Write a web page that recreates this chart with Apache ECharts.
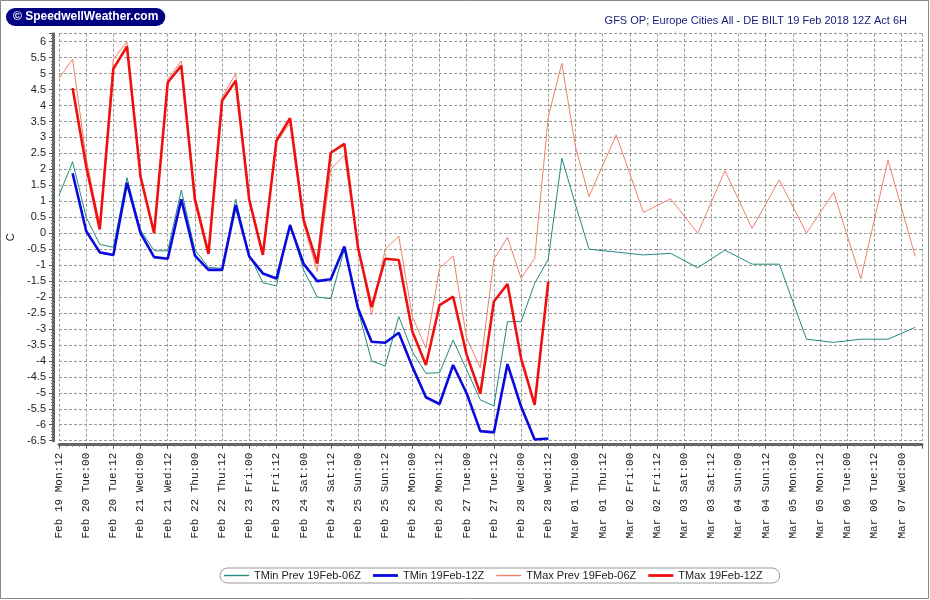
<!DOCTYPE html>
<html>
<head>
<meta charset="utf-8">
<title>DE BILT GFS</title>
<script src="https://cdn.jsdelivr.net/npm/echarts@6/dist/echarts.min.js"></script>
<style>
    html, body { margin: 0; padding: 0; background: #fff; }
    #chart { width: 930px; height: 600px; }
</style>
</head>
<body>
<div id="chart"></div>
<script type="text/javascript">
    // 6 hour steps from Feb 19 12Z (index i -> hour i*6)
    var stepHours = 6;

    // x axis labels, one every 12 hours
    var tickLabels = [
        'Feb 19 Mon:12', 'Feb 20 Tue:00', 'Feb 20 Tue:12', 'Feb 21 Wed:00', 'Feb 21 Wed:12',
        'Feb 22 Thu:00', 'Feb 22 Thu:12', 'Feb 23 Fri:00', 'Feb 23 Fri:12', 'Feb 24 Sat:00',
        'Feb 24 Sat:12', 'Feb 25 Sun:00', 'Feb 25 Sun:12', 'Feb 26 Mon:00', 'Feb 26 Mon:12',
        'Feb 27 Tue:00', 'Feb 27 Tue:12', 'Feb 28 Wed:00', 'Feb 28 Wed:12', 'Mar 01 Thu:00',
        'Mar 01 Thu:12', 'Mar 02 Fri:00', 'Mar 02 Fri:12', 'Mar 03 Sat:00', 'Mar 03 Sat:12',
        'Mar 04 Sun:00', 'Mar 04 Sun:12', 'Mar 05 Mon:00', 'Mar 05 Mon:12', 'Mar 06 Tue:00',
        'Mar 06 Tue:12', 'Mar 07 Wed:00'
    ];

    var seriesNames = ['TMin Prev 19Feb-06Z', 'TMin 19Feb-12Z', 'TMax Prev 19Feb-06Z', 'TMax 19Feb-12Z'];

    //TMin Prev 19Feb-06Z
    var tminPrev = [
        1.18, 2.24, 0.5, -0.35, -0.44, 1.74, 0.1, -0.55, -0.55, 1.35,
        -0.52, -1.07, -1.1, 1.07, -0.68, -1.55, -1.65, 0.28, -1.15, -2.0,
        -2.05, -0.5, -2.4, -4.0, -4.16, -2.61, -3.71, -4.39, -4.37, -3.35,
        -4.28, -5.22, -5.41, -2.77, -2.77, -1.57, -0.82, 2.35, 0.9, -0.5,
        null, -0.59, null, -0.68, null, -0.63, null, -1.08, null, -0.53,
        null, -0.97, null, -0.97, null, -3.32, null, -3.42, null, -3.32,
        null, -3.32, null, -2.95
    ];
    //TMin 19Feb-12Z
    var tmin = [
        null, 1.88, 0.07, -0.6, -0.68, 1.58, 0.0, -0.75, -0.8, 1.06,
        -0.7, -1.15, -1.15, 0.88, -0.73, -1.26, -1.42, 0.25, -0.96, -1.5,
        -1.44, -0.42, -2.35, -3.4, -3.43, -3.12, -4.18, -5.14, -5.35, -4.13,
        -5.02, -6.2, -6.24, -4.1, -5.43, -6.46, -6.43
    ];
    //TMax Prev 19Feb-06Z
    var tmaxPrev = [
        4.85, 5.45, 2.35, 0.25, 5.45, 6.0, 1.85, 0.0, 4.82, 5.4,
        1.2, -0.55, 4.25, 5.0, 1.1, -0.6, 2.85, 3.45, 0.3, -1.2,
        2.0, 2.45, -0.4, -2.56, -0.5, -0.09, -2.61, -3.6, -1.1, -0.71,
        -3.29, -4.21, -0.82, -0.13, -1.41, -0.79, 3.65, 5.32, 2.71, 1.15,
        null, 3.08, null, 0.65, null, 1.08, null, 0.0, null, 1.96,
        null, 0.15, null, 1.67, null, 0.0, null, 1.28, null, -1.43,
        null, 2.29, null, -0.73
    ];
    //TMax 19Feb-12Z
    var tmax = [
        null, 4.55, 2.1, 0.12, 5.15, 5.85, 1.77, 0.0, 4.72, 5.25,
        1.05, -0.65, 4.15, 4.78, 1.04, -0.68, 2.9, 3.6, 0.42, -0.95,
        2.52, 2.8, -0.45, -2.32, -0.8, -0.84, -3.08, -4.13, -2.25, -1.99,
        -3.81, -5.03, -2.14, -1.59, -3.92, -5.38, -1.52
    ];

    // 把数组转成 [小时, 值]，空值跳过
    function toPairs(arr) {
        var out = [];
        for (var i = 0; i < arr.length; i++) {
            if (arr[i] !== null) out.push([i * stepHours, arr[i]]);
        }
        return out;
    }

    // 图例图标：细线/粗线 (moveTo 撑开包围盒)
    var thinIcon = 'path://M0,0 M0,8 M0,3.3 L25,3.3 L25,4.7 L0,4.7 Z';
    var thickIcon = 'path://M0,0 M0,8 M0,2.6 L25,2.6 L25,5.4 L0,5.4 Z';

    var chart = echarts.init(document.getElementById('chart'));
    var font = 'Liberation Sans';

    var option = {
        animation: false,
        backgroundColor: '#fff',
        title: [{
            text: '\u00a9 SpeedwellWeather.com',
            left: 6,
            top: 8,
            backgroundColor: '#000080',
            borderRadius: 10,
            padding: [3, 7, 3, 7],
            textStyle: {color: '#fff', fontWeight: 'bold', fontSize: 12, fontFamily: font}
        }, {
            text: 'GFS OP; Europe Cities All - DE BILT 19 Feb 2018 12Z Act 6H',
            right: 18,
            top: 10,
            textStyle: {color: '#1a1a7a', fontWeight: 'normal', fontSize: 11, fontFamily: font}
        }],
        graphic: [{
            type: 'rect',
            shape: {x: 0.5, y: 0.5, width: 928, height: 598},
            style: {fill: 'none', stroke: '#888', lineWidth: 1},
            silent: true
        }],
        legend: {
            left: 220,
            top: 568,
            itemWidth: 25,
            itemHeight: 8,
            itemGap: 12,
            padding: [2, 17, 2, 4],
            borderColor: '#999',
            borderWidth: 1,
            borderRadius: 9,
            textStyle: {fontSize: 11, fontFamily: font, color: '#222'},
            data: [
                {name: seriesNames[0], icon: thinIcon},
                {name: seriesNames[1], icon: thickIcon},
                {name: seriesNames[2], icon: thinIcon},
                {name: seriesNames[3], icon: thickIcon}
            ]
        },
        grid: {
            left: 59,
            right: 8,
            top: 33.7,
            bottom: 159.3,
            containLabel: false,
            outerBoundsMode: 'none'
        },
        xAxis: {
            type: 'value',
            min: 0,
            max: 381,
            interval: 12,
            offset: 4,
            axisLine: {onZero: false, lineStyle: {color: '#666', width: 3}},
            axisTick: {length: 4, lineStyle: {color: '#555'}},
            minorTick: {show: true, splitNumber: 4, length: 2, lineStyle: {color: '#777'}},
            axisLabel: {
                rotate: 90,
                margin: 8,
                showMaxLabel: false,
                fontFamily: 'Liberation Mono',
                fontSize: 11,
                color: '#222',
                formatter: function (v) {
                    return v % 12 === 0 && tickLabels[v / 12] ? tickLabels[v / 12] : '';
                }
            },
            splitLine: {show: true, lineStyle: {color: '#9a9a9a', type: [3, 2], width: 1}}
        },
        yAxis: {
            type: 'value',
            min: -6.5,
            max: 6.25,
            interval: 0.5,
            offset: 6,
            name: 'C',
            nameLocation: 'middle',
            nameGap: 35,
            nameTextStyle: {fontSize: 11, fontFamily: font, color: '#222'},
            axisLine: {show: true, onZero: false, lineStyle: {color: '#666', width: 3}},
            axisTick: {show: true, length: 4, lineStyle: {color: '#555'}},
            minorTick: {show: true, splitNumber: 5, length: 2, lineStyle: {color: '#777'}},
            axisLabel: {
                margin: 7,
                showMaxLabel: false,
                fontFamily: font,
                fontSize: 11,
                color: '#222'
            },
            splitLine: {show: true, lineStyle: {color: '#9a9a9a', type: [3, 2], width: 1}}
        },
        series: [{
            name: seriesNames[0],
            type: 'line',
            symbol: 'none',
            color: '#238a80',
            lineStyle: {width: 1, color: '#238a80'},
            data: toPairs(tminPrev)
        }, {
            name: seriesNames[1],
            type: 'line',
            symbol: 'none',
            color: '#0a0ae0',
            lineStyle: {width: 2.6, color: '#0a0ae0'},
            data: toPairs(tmin)
        }, {
            name: seriesNames[2],
            type: 'line',
            symbol: 'none',
            color: '#f0806c',
            lineStyle: {width: 1, color: '#f0806c'},
            data: toPairs(tmaxPrev)
        }, {
            name: seriesNames[3],
            type: 'line',
            symbol: 'none',
            color: '#f01010',
            lineStyle: {width: 2.6, color: '#f01010'},
            data: toPairs(tmax)
        }]
    };
    chart.setOption(option);
</script>
</body>
</html>
